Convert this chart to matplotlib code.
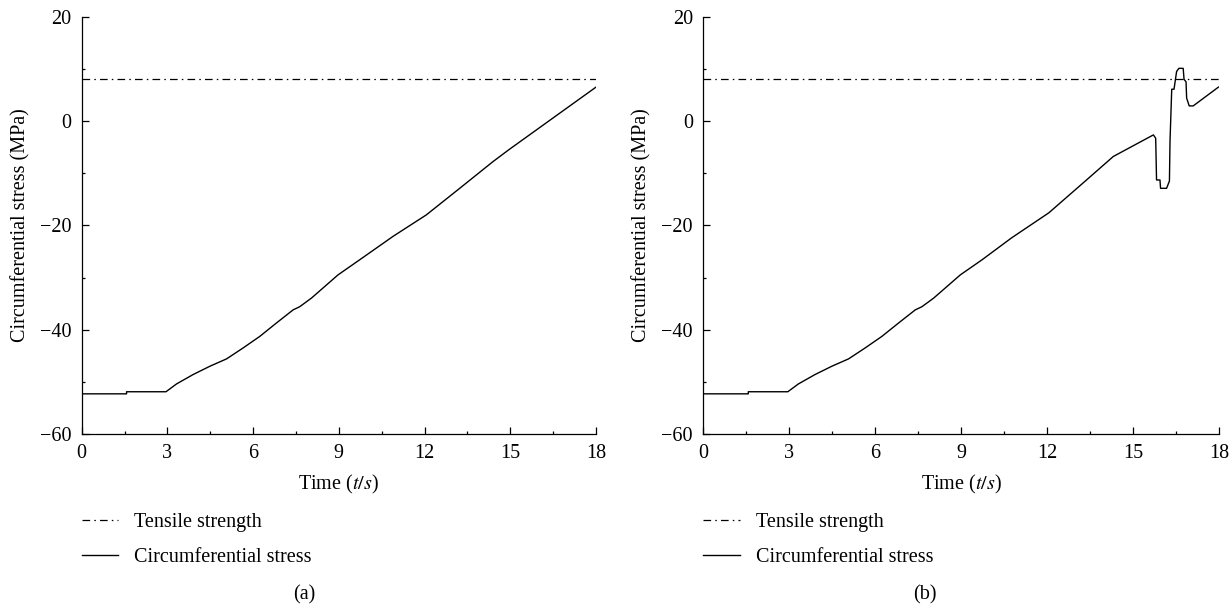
import numpy as np
import matplotlib.pyplot as plt
from matplotlib.ticker import MultipleLocator

plt.rcParams['font.family'] = ['Liberation Serif', 'DejaVu Serif']
plt.rcParams['mathtext.fontset'] = 'stix'
plt.rcParams['lines.scale_dashes'] = False

# tensile strength (MPa)
tensile_strength = 8.0

# panel (a): circumferential stress
time_a = [0, 1.57, 1.57, 2.95, 3.32, 3.90, 4.49, 5.07, 5.65, 6.23, 6.82, 7.40,
          7.63, 8.04, 8.97, 9.73, 10.9, 12.06, 13.23, 14.39, 14.95, 16.5, 18.0]
stress_a = [-52.3, -52.3, -51.9, -51.9, -50.4, -48.6, -47.0, -45.6, -43.5, -41.3,
            -38.7, -36.2, -35.6, -33.95, -29.5, -26.6, -22.1, -18.0, -12.9, -7.8,
            -5.5, 0.6, 6.5]

# panel (b): same loading, local failure near t = 16 s
time_b = [0, 1.57, 1.57, 2.95, 3.32, 3.90, 4.49, 5.07, 5.65, 6.23, 6.82, 7.40,
          7.63, 8.04, 8.97, 9.73, 10.76, 12.06, 13.23, 14.31, 15.71, 15.79,
          15.82, 15.94, 15.96, 16.17, 16.27, 16.29, 16.35, 16.43, 16.52, 16.60,
          16.75, 16.78, 16.85, 16.87, 16.96, 17.10, 17.98]
stress_b = [-52.3, -52.3, -51.9, -51.9, -50.4, -48.6, -47.0, -45.6, -43.5, -41.3,
            -38.7, -36.2, -35.6, -33.95, -29.5, -26.6, -22.4, -17.6, -12.0, -6.8,
            -2.66, -3.3, -11.3, -11.3, -12.9, -12.9, -11.5, -3.9, 6.1, 6.1,
            9.5, 10.1, 10.1, 8.0, 7.5, 4.4, 2.9, 2.9, 6.5]

x_ticks = [0, 3, 6, 9, 12, 15, 18]
y_ticks = [20, 0, -20, -40, -60]

FS = 14.5
dashdot = (0, (5.5, 3, 1.1, 3))

fig = plt.figure(figsize=(12.32, 6.07), dpi=100)
ax_a = fig.add_axes([81.7 / 1232, 173 / 607, 514.3 / 1232, 417.3 / 607])
ax_b = fig.add_axes([703.3 / 1232, 173 / 607, 515.7 / 1232, 417.3 / 607])

panels = [(ax_a, time_a, stress_a, '(a)', 304 / 1232),
          (ax_b, time_b, stress_b, '(b)', 925 / 1232)]

for ax, t, s, tag, xc in panels:
    ax.plot([0, 18], [tensile_strength, tensile_strength], color='black',
            lw=0.9, linestyle=dashdot, label='Tensile strength')
    ax.plot(t, s, color='black', lw=1.0, label='Circumferential stress')

    ax.set_xlim(0, 18)
    ax.set_ylim(-60, 20)
    ax.set_xticks(x_ticks)
    ax.set_yticks(y_ticks)
    ax.xaxis.set_minor_locator(MultipleLocator(1.5))
    ax.yaxis.set_minor_locator(MultipleLocator(10))
    ax.tick_params(which='major', direction='in', length=5, width=0.9,
                   labelsize=FS, pad=7.5)
    ax.tick_params(which='minor', direction='in', length=2.5, width=0.9)
    for side in ['top', 'right']:
        ax.spines[side].set_visible(False)
    for side in ['left', 'bottom']:
        ax.spines[side].set_linewidth(0.9)
    ax.margins(0)

    ax.set_xlabel('Time ($t/s$)', fontsize=FS, labelpad=7)
    ax.set_ylabel('Circumferential stress (MPa)', fontsize=FS, labelpad=7)

    ax.legend(loc='upper left', bbox_to_anchor=(0, -0.19), frameon=False,
              fontsize=FS, borderpad=0, borderaxespad=0, handlelength=1.8,
              handletextpad=0.8, labelspacing=0.75)

    fig.text(xc, 0.02, tag, ha='center', va='center', fontsize=FS)

fig.savefig('out.png', dpi=100)
